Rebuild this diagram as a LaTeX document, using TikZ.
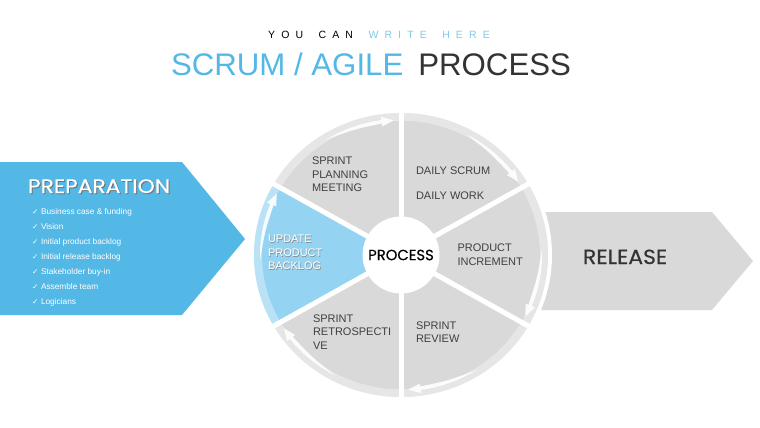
\documentclass[tikz,border=0pt]{standalone}
\usepackage{fontspec}
\usepackage{graphicx}
\setmainfont{Liberation Sans}
\newfontfamily\geo[FakeBold=0.35]{Poppins}
\newfontfamily\djv{DejaVu Sans}
\definecolor{sblue}{RGB}{84,184,230}
\definecolor{lblue}{RGB}{130,202,235}
\definecolor{secgray}{RGB}{217,217,217}
\definecolor{secblue}{RGB}{148,211,242}
\definecolor{txt}{RGB}{64,64,64}
\definecolor{dark}{RGB}{51,51,51}
\newcommand\lk{\kern6.1pt}
\newcommand\wk{\kern15.5pt}
\newcommand\ck{\makebox[9pt][l]{\djv\fontsize{7.5}{8}\selectfont ✓}}
\tikzset{
  sectxt/.style={anchor=north west, align=left, text=txt, font=\fontsize{11}{13.3}\selectfont},
  bluetxt/.style={anchor=north west, align=left, text=white, font=\fontsize{11}{13.4}\selectfont},
  shadowtxt/.style={anchor=north west, align=left, text=black!45, font=\fontsize{11}{13.4}\selectfont},
  rimarrow/.style={fill=white, opacity=0.9}
}
\begin{document}
\begin{tikzpicture}[x=1pt,y=-1pt, every node/.style={inner sep=0pt, outer sep=0pt}]
\useasboundingbox (0,0) rectangle (760,428);
\fill[white] (0,0) rectangle (760,428);

% titles
\node[anchor=base, font=\fontsize{10.5}{12}\selectfont] (sub) at (379,39)
  {Y\lk O\lk U\wk C\lk A\lk N\wk \textcolor{lblue}{W\lk R\lk I\lk T\lk E\wk H\lk E\lk R\lk E}};
\node[anchor=base, font=\fontsize{31.2}{36}\selectfont] (title) at (371,75)
  {\textcolor{sblue}{SCRUM / AGILE}\hspace{15pt}\textcolor{dark}{PROCESS}};

% left arrow
\fill[sblue] (0,162) -- (182,162) -- (245,239) -- (182,315) -- (0,315) -- cycle;
\node[anchor=base west, font=\geo\fontsize{19.5}{20}\selectfont, text=black!55] (prepsh) at (29,194) {\scalebox{1.12}[1]{PREPARATION}};
\node[anchor=base west, font=\geo\fontsize{19.5}{20}\selectfont, text=white] (prep) at (28,193) {\scalebox{1.12}[1]{PREPARATION}};
\node[anchor=north west, align=left, text=white, font=\fontsize{8.3}{15}\selectfont] (list) at (32,208.6)
  {\ck Business case \& funding\\
   \ck Vision\\
   \ck Initial product backlog\\
   \ck Initial release backlog\\
   \ck Stakeholder buy-in\\
   \ck Assemble team\\
   \ck Logicians};

% right arrow
\fill[secgray] (540,212) -- (712,212) -- (753,261) -- (712,310) -- (540,310) -- cycle;
\node[anchor=base west, font=\geo\fontsize{20.5}{22}\selectfont, text=dark] (rel) at (583,264) {\scalebox{1.07}[1]{RELEASE}};

% wheel
\begin{scope}[shift={(401,255)}, yscale=-0.966]
  \fill[white] (0,0) circle (151);
  \foreach \s/\c in {-30/secgray, 30/secgray, 90/secgray, 150/secblue, 210/secgray, 270/secgray}{
    \fill[\c] (0,0) -- (\s:147) arc[start angle=\s, end angle=\s+60, radius=147] -- cycle;
    \fill[white, opacity=0.35] (\s:147) arc[start angle=\s, end angle=\s+60, radius=147]
       -- ({\s+60}:139) arc[start angle=\s+60, end angle=\s, radius=139] -- cycle;
    \fill[rimarrow] ({\s+32}:141) arc[start angle=\s+32, end angle=\s+8, radius=141]
       -- ({\s+8}:144.5) -- ({\s+3}:139.5) -- ({\s+8}:134.5) -- ({\s+8}:137.5)
       .. controls ({\s+20}:138.3) .. ({\s+32}:141) -- cycle;
  }
  \foreach \a in {30,90,150,210,270,330}
    \draw[white, line width=5] (0,0) -- (\a:153);
\end{scope}
\node[circle, fill=white, minimum size=77pt, font=\geo\fontsize{14.8}{16}\selectfont, text=black] (proc) at (401,255) {PROCESS};

% sector texts
\node[sectxt] (spm) at (312,157.1) {SPRINT\\PLANNING\\MEETING};
\node[anchor=base west, text=txt, font=\fontsize{11}{13}\selectfont] (ds) at (416,174) {DAILY SCRUM};
\node[anchor=base west, text=txt, font=\fontsize{11}{13}\selectfont] (dw) at (416,199) {DAILY WORK};
\node[shadowtxt] (upbsh) at (268.7,236.1) {UPDATE\\PRODUCT\\BACKLOG};
\node[bluetxt] (upb) at (268,235.4) {UPDATE\\PRODUCT\\BACKLOG};
\node[sectxt, font=\fontsize{11}{14}\selectfont] (pi) at (457.5,243.8) {PRODUCT\\INCREMENT};
\node[sectxt] (sr) at (313,314.8) {SPRINT\\RETROSPECTI\\VE};
\node[sectxt, font=\fontsize{11}{13.4}\selectfont] (srv) at (416,321.4) {SPRINT\\REVIEW};
\end{tikzpicture}
\end{document}
